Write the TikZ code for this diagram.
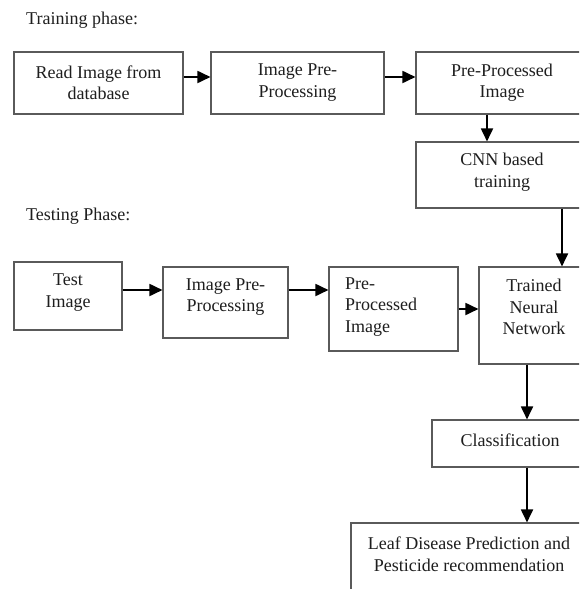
\documentclass[tikz,border=0pt]{standalone}
\usepackage{fontspec}
\setmainfont{Liberation Serif}
\usetikzlibrary{arrows.meta}
\definecolor{boxline}{HTML}{5A5A5A}
\definecolor{txtcol}{HTML}{1E1E1E}
\begin{document}
\begin{tikzpicture}[x=1pt,y=-1pt,
  font=\fontsize{18}{21.5}\selectfont,
  box/.style={draw=boxline,line width=1.1pt,fill=none,inner sep=0pt,rectangle},
  txt/.style={text=txtcol,align=center,inner sep=0pt},
  ltxt/.style={text=txtcol,align=left,inner sep=0pt},
  arr/.style={draw=black,line width=1.8pt,-{Triangle[length=13pt,width=12pt]}}]
\useasboundingbox (0,0) rectangle (579,589);
\clip (0,0) rectangle (579,589);
\fill[white] (0,0) rectangle (579,589);

% phase labels
\node[ltxt,anchor=base west] (trainlbl) at (26,24) {Training phase:};
\node[ltxt,anchor=base west] (testlbl) at (26,220) {Testing Phase:};

% training boxes
\node[box,minimum width=169,minimum height=62] (b1) at (98.5,83) {};
\node[box,minimum width=173,minimum height=62] (b2) at (297.5,83) {};
\node[box,minimum width=172,minimum height=62] (b3) at (502,83) {};
\node[box,minimum width=172,minimum height=66] (cnn) at (502,175) {};

% testing boxes
\node[box,minimum width=108,minimum height=68] (test) at (68,296) {};
\node[box,minimum width=125,minimum height=71] (ipp) at (225.5,302.5) {};
\node[box,minimum width=129,minimum height=84] (ppi) at (393.5,309) {};
\node[box,minimum width=110,minimum height=97] (tnn) at (534,315.5) {};
\node[box,minimum width=156,minimum height=47] (cls) at (510,443.5) {};
\node[box,minimum width=236,minimum height=90] (fin) at (469,568) {};

% texts
\node[txt] (b1t) at (98.5,82.5) {Read Image from\\database};
\node[txt] (b2t) at (297.5,82.5) {Image Pre-\\Processing};
\node[txt] (b3t) at (502,82.5) {Pre-Processed\\Image};
\node[txt] (cnnt) at (502,172) {CNN based\\training};
\node[txt] (testt) at (68,292.5) {Test\\Image};
\node[txt] (ippt) at (225.5,297) {Image Pre-\\Processing};
\node[ltxt,anchor=west] (ppit) at (345,307) {Pre-\\Processed\\Image};
\node[txt] (tnnt) at (534,307) {Trained\\Neural\\Network};
\node[txt] (clst) at (510,440) {Classification};
\node[txt] (fint) at (469,554) {Leaf Disease Prediction and\\Pesticide recommendation};

% helper coordinates
\coordinate (yA) at (0,77);
\coordinate (yB) at (0,290);
\coordinate (yC) at (0,309);
\coordinate (xA) at (487,0);
\coordinate (xB) at (562,0);
\coordinate (xC) at (527,0);

% connectors
\draw[arr] (b1.east |- yA) -- (b2.west |- yA);
\draw[arr] (b2.east |- yA) -- (b3.west |- yA);
\draw[arr] (b3.south -| xA) -- (cnn.north -| xA);
\draw[arr] (cnn.south -| xB) -- (tnn.north -| xB);
\draw[arr] (test.east |- yB) -- (ipp.west |- yB);
\draw[arr] (ipp.east |- yB) -- (ppi.west |- yB);
\draw[arr] (ppi.east |- yC) -- (tnn.west |- yC);
\draw[arr] (tnn.south -| xC) -- (cls.north -| xC);
\draw[arr] (cls.south -| xC) -- (fin.north -| xC);
\end{tikzpicture}
\end{document}
